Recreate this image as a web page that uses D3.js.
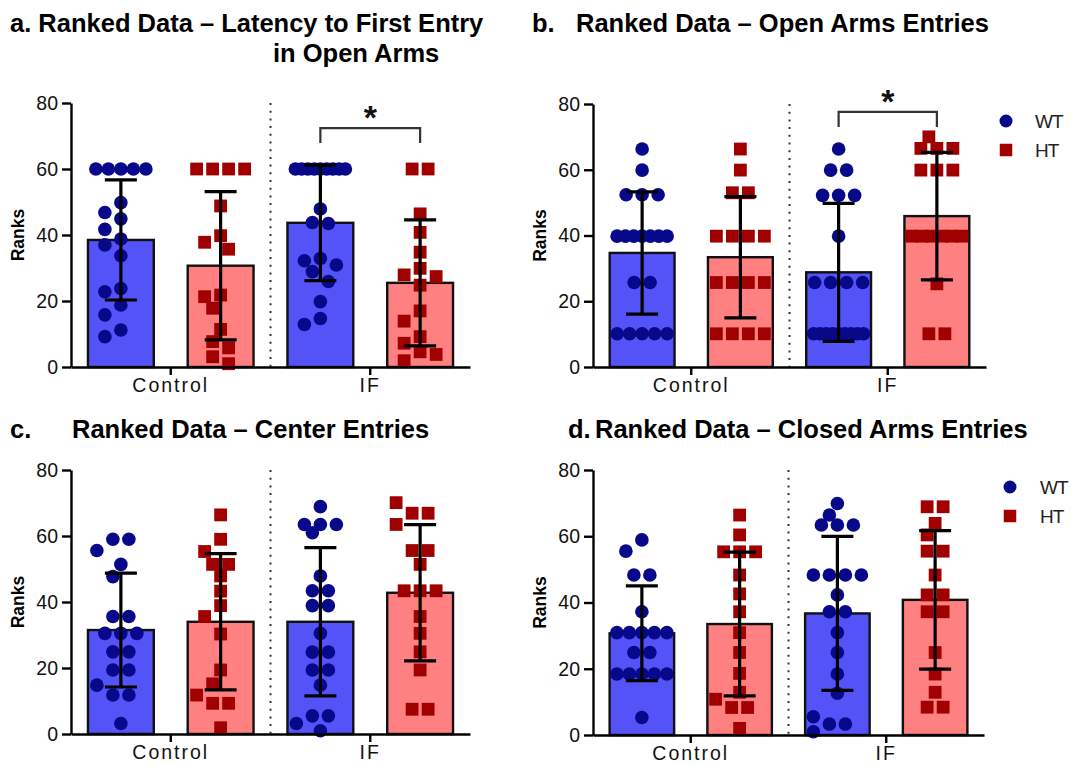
<!DOCTYPE html>
<html><head><meta charset="utf-8">
<script src="https://cdn.jsdelivr.net/npm/d3@7"></script>
<style>body{margin:0;background:#fff} svg{display:block}</style>
</head><body>
<svg id="chart" width="1072" height="765"></svg>
<script>
// ---------- data ----------
const groups = ["Control", "IF"];
const genotypes = ["WT", "HT"];
const yTicks = [0, 20, 40, 60, 80];
const yDomain = [0, 80];
const yLabel = "Ranks";

// order of bars: Control-WT, Control-HT, IF-WT, IF-HT
const latencyPoints = [
  [60,60,60,60,60,49.8,46.8,44.9,41.7,38.8,37.0,33.7,23.8,22.8,18.8,15.8,11.2,9.2],
  [60,60,60,60,48.8,39.8,37.8,35.7,21.8,21.3,17.8,11.4,7.7,5.8,3.1,1.0],
  [60,60,60,60,60,60,60,60,60,47.9,43.8,43.5,32.9,32.2,30.9,28.9,25.9,19.8,14.7,12.9],
  [60,60,46.4,40.8,34.8,29.9,27.9,27.4,24.8,17.0,13.9,9.2,7.2,4.6,3.8,1.9]
];
const latencyMeans = [38.5, 30.7, 43.7, 25.5];
const latencySD    = [18.2, 22.45, 17.5, 19.1];

const openPoints = [
  [66.3,59.9,52.4,52.4,52.4,39.8,39.8,39.8,39.8,39.8,39.8,39.8,25.7,25.7,10.1,10.1,10.1,10.1,10.1],
  [66.3,59.9,53.0,53.0,39.8,39.8,39.8,39.8,25.7,25.7,25.7,25.7,10.1,10.1,10.1,10.1],
  [66.3,59.9,59.9,52.2,52.2,52.2,39.8,25.7,25.7,25.7,25.7,10.1,10.1,10.1,10.1,10.1,10.1,10.1,10.1,10.1],
  [70.0,66.5,66.5,66.5,59.9,59.9,59.9,39.8,39.8,39.8,39.8,39.8,39.8,25.3,10.1,10.1]
];
const openMeans = [34.7, 33.4, 28.8, 45.9];
const openSD    = [18.6, 18.45, 21.0, 19.4];

const centerPoints = [
  [59.0,59.0,55.6,51.4,47.7,35.6,35.6,30.5,30.5,30.5,24.9,24.9,19.4,19.4,14.8,11.8,11.8,3.2],
  [66.4,59.0,55.3,51.4,51.4,47.9,43.3,38.9,35.6,30.3,19.4,15.2,11.8,9.3,9.3,1.9],
  [68.9,63.5,63.5,63.5,61.0,47.9,43.4,43.4,38.9,38.9,30.5,24.8,24.8,19.4,19.4,14.8,5.5,5.5,3.2,1.0],
  [70.1,66.9,66.9,63.5,55.6,55.6,51.4,43.4,43.4,43.4,35.6,30.5,24.9,19.4,7.5,7.5]
];
const centerMeans = [31.5, 34.0, 34.0, 42.8];
const centerSD    = [17.25, 20.65, 22.45, 20.65];

const closedPoints = [
  [58.9,55.5,48.3,48.3,37.2,30.9,30.9,30.9,30.9,30.9,24.9,24.9,18.4,18.4,18.4,18.4,18.4,5.3],
  [66.4,60.4,55.3,55.3,55.3,48.3,42.6,37.2,30.9,24.9,18.6,12.9,10.8,8.3,8.3,2.0],
  [69.9,66.4,63.4,63.4,63.4,48.3,48.3,48.3,48.3,42.3,37.2,37.2,30.9,24.9,18.4,12.6,5.5,3.3,3.3,1.0],
  [68.9,68.9,63.9,60.4,55.5,55.5,48.3,42.3,42.3,37.2,37.2,24.9,18.4,12.9,8.4,8.4]
];
const closedMeans = [30.7, 33.5, 36.7, 40.8];
const closedSD    = [14.3, 21.7, 23.25, 20.9];

// significance brackets
const latencySig = {group: "IF", level: 72.4, legEnd: 67.9, label: "*"};
const openSig    = {group: "IF", level: 77.6, legEnd: 73.0, label: "*"};

// ---------- layout / style ----------
const colors = {
  WT: {bar: "#5353f7", mark: "#08088a"},
  HT: {bar: "#ff8080", mark: "#a00000"}
};
const FONT = "'Liberation Sans', Arial, sans-serif";

const panels = [
  {points: latencyPoints, means: latencyMeans, sd: latencySD, sig: latencySig,
   x0: 71, x1: 470, yb: 367, yt: 103, ylabX: 18,
   titles: [{t: "a. Ranked Data \u2013 Latency to First Entry", x: 10, y: 32},
            {t: "in Open Arms", x: 273, y: 62}]},
  {points: openPoints, means: openMeans, sd: openSD, sig: openSig,
   x0: 593, x1: 986, yb: 367, yt: 104, ylabX: 540,
   legend: {x: 1006, y: 121, tx: 1035},
   titles: [{t: "b.", x: 532, y: 32}, {t: "Ranked Data \u2013 Open Arms Entries", x: 576, y: 32}]},
  {points: centerPoints, means: centerMeans, sd: centerSD,
   x0: 71, x1: 470, yb: 734, yt: 470, ylabX: 18,
   titles: [{t: "c.", x: 10, y: 438}, {t: "Ranked Data \u2013 Center Entries", x: 72, y: 438}]},
  {points: closedPoints, means: closedMeans, sd: closedSD,
   x0: 593, x1: 984, yb: 735, yt: 470, ylabX: 540,
   legend: {x: 1010, y: 487, tx: 1040},
   titles: [{t: "d.", x: 568, y: 438}, {t: "Ranked Data \u2013 Closed Arms Entries", x: 595, y: 438}]}
];

const svg = d3.select("#chart").style("font-family", FONT);

function swarm(values, yScale, diam, step, maxSpan) {
  const counts = d3.rollup(values, v => v.length, d => d);
  const placed = [];
  for (const [v, n] of counts) if (n > 1) {
    const sp = Math.min(step * 2, maxSpan / (n - 1));
    for (let i = 0; i < n; i++) placed.push({v, dx: (i - (n - 1) / 2) * sp});
  }
  const singles = [...counts].filter(d => d[1] === 1).map(d => d[0]).sort((a, b) => b - a);
  for (const v of singles) {
    const yy = yScale(v);
    let best = null, fallback = 0, fallbackD = -1;
    for (let k = 0; k <= 3 && best === null; k++) {
      const cands = k === 0 ? [0] : [-k * step, k * step];
      for (const dx of cands) {
        let minD = Infinity;
        for (const p of placed) {
          const ddx = p.dx - dx, ddy = yScale(p.v) - yy;
          minD = Math.min(minD, Math.sqrt(ddx * ddx + ddy * ddy));
        }
        if (minD >= diam) { best = dx; break; }
        if (minD > fallbackD) { fallbackD = minD; fallback = dx; }
      }
    }
    placed.push({v, dx: best === null ? fallback : best});
  }
  return placed;
}

panels.forEach(P => {
  const g = svg.append("g");
  const y = d3.scaleLinear().domain(yDomain).range([P.yb, P.yt]);
  const xg = d3.scaleBand().domain(groups).range([P.x0, P.x1]).padding(0);
  const xi = d3.scaleBand().domain(genotypes).range([0, xg.bandwidth()])
    .paddingInner(0.34).paddingOuter(0.17);

  const bars = [];
  groups.forEach((gr, gi) => genotypes.forEach((ge, ei) => {
    const idx = gi * 2 + ei;
    bars.push({gr, ge, idx, cx: xg(gr) + xi(ge) + xi.bandwidth() / 2,
      mean: P.means[idx], sd: P.sd[idx], pts: P.points[idx]});
  }));

  // titles
  P.titles.forEach(t => g.append("text").attr("x", t.x).attr("y", t.y)
    .attr("font-size", 25.5).attr("font-weight", "bold").attr("fill", "#000").text(t.t));

  // separator
  g.append("line").attr("x1", xg("IF")).attr("x2", xg("IF"))
    .attr("y1", y(80)).attr("y2", y(0))
    .attr("stroke", "#333").attr("stroke-width", 2).attr("stroke-dasharray", "2,5.7");

  // bars
  g.selectAll("rect.bar").data(bars).join("rect").attr("class", "bar")
    .attr("x", d => xg(d.gr) + xi(d.ge)).attr("width", xi.bandwidth())
    .attr("y", d => y(d.mean)).attr("height", d => y(0) - y(d.mean))
    .attr("fill", d => colors[d.ge].bar).attr("stroke", "#111").attr("stroke-width", 2.4);

  // points
  bars.forEach(b => {
    const lay = swarm(b.pts, y, 14, 8, 50);
    if (b.ge === "WT") {
      g.append("g").selectAll("circle").data(lay).join("circle")
        .attr("cx", d => b.cx + d.dx).attr("cy", d => y(d.v)).attr("r", 6.8)
        .attr("fill", colors.WT.mark);
    } else {
      g.append("g").selectAll("rect").data(lay).join("rect")
        .attr("x", d => b.cx + d.dx - 6.4).attr("y", d => y(d.v) - 6.4)
        .attr("width", 12.8).attr("height", 12.8).attr("fill", colors.HT.mark);
    }
  });

  // error bars
  const eb = g.append("g").attr("stroke", "#000").attr("stroke-width", 3.2);
  bars.forEach(b => {
    eb.append("line").attr("x1", b.cx).attr("x2", b.cx)
      .attr("y1", y(b.mean + b.sd)).attr("y2", y(b.mean - b.sd));
    [b.mean + b.sd, b.mean - b.sd].forEach(v => eb.append("line")
      .attr("x1", b.cx - 16).attr("x2", b.cx + 16).attr("y1", y(v)).attr("y2", y(v)));
  });

  // axes
  const ya = g.append("g").attr("transform", `translate(${P.x0},0)`)
    .call(d3.axisLeft(y).tickValues(yTicks).tickSize(9).tickSizeOuter(0).tickPadding(4));
  const xa = g.append("g").attr("transform", `translate(0,${P.yb})`)
    .call(d3.axisBottom(xg).tickSize(8).tickSizeOuter(0).tickPadding(3));
  [ya, xa].forEach(a => {
    a.select(".domain").attr("stroke", "#000").attr("stroke-width", 2.4);
    a.selectAll(".tick line").attr("stroke", "#000").attr("stroke-width", 2.4);
    a.selectAll(".tick text").attr("fill", "#111").attr("font-family", FONT);
  });
  ya.selectAll(".tick text").attr("font-size", 19.5);
  xa.selectAll(".tick text").attr("font-size", 19.5).attr("letter-spacing", 2);

  // y label
  g.append("text").attr("transform", `translate(${P.ylabX},${(P.yb + P.yt) / 2}) rotate(-90)`)
    .attr("text-anchor", "middle").attr("dy", "0.36em")
    .attr("font-size", 17.5).attr("font-weight", "bold").text(yLabel);

  // significance
  if (P.sig) {
    const b1 = bars.find(b => b.gr === P.sig.group && b.ge === "WT");
    const b2 = bars.find(b => b.gr === P.sig.group && b.ge === "HT");
    g.append("path")
      .attr("d", `M${b1.cx},${y(P.sig.legEnd)}V${y(P.sig.level)}H${b2.cx}V${y(P.sig.legEnd)}`)
      .attr("fill", "none").attr("stroke", "#333").attr("stroke-width", 2.2);
    g.append("text").attr("x", (b1.cx + b2.cx) / 2).attr("y", y(P.sig.level) + 1)
      .attr("text-anchor", "middle").attr("font-size", 34).attr("font-weight", "bold")
      .attr("fill", "#111").text(P.sig.label);
  }

  // legend
  if (P.legend) {
    const L = P.legend;
    genotypes.forEach((ge, i) => {
      const cy = L.y + i * 29;
      if (ge === "WT") g.append("circle").attr("cx", L.x).attr("cy", cy).attr("r", 6.5).attr("fill", colors.WT.mark);
      else g.append("rect").attr("x", L.x - 6.25).attr("y", cy - 6.25).attr("width", 12.5).attr("height", 12.5).attr("fill", colors.HT.mark);
      g.append("text").attr("x", L.tx).attr("y", cy).attr("dy", "0.36em")
        .attr("font-size", 19).attr("fill", "#222").attr("letter-spacing", -1).text(ge);
    });
  }
});
</script>
</body></html>
